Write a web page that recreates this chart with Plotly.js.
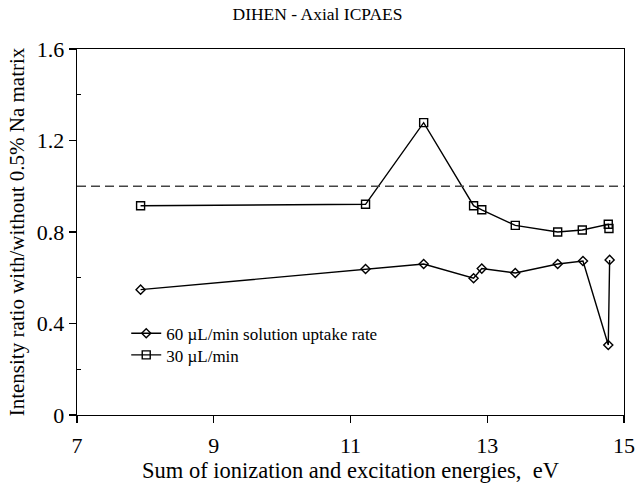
<!DOCTYPE html>
<html>
<head>
<meta charset="utf-8">
<script src="https://cdn.plot.ly/plotly-3.0.1.min.js"></script>
<style>html,body{margin:0;padding:0;background:#fff;}#chart{width:635px;height:486px;}</style>
</head>
<body>
<div id="chart"></div>
<script>
// Sum of ionization and excitation energies (eV)
const energy60 = [7.93, 11.22, 12.07, 12.80, 12.92, 13.41, 14.03, 14.40, 14.77, 14.79];
const ratio60  = [0.548, 0.638, 0.660, 0.598, 0.640, 0.621, 0.660, 0.673, 0.306, 0.678];
const energy30 = [7.93, 11.22, 12.07, 12.80, 12.92, 13.41, 14.03, 14.39, 14.77, 14.78];
const ratio30  = [0.915, 0.921, 1.278, 0.915, 0.897, 0.829, 0.800, 0.809, 0.834, 0.815];
const refLevel = 1.0;
const seriesNames = ["60 \u00b5L/min solution uptake rate", "30 \u00b5L/min"];
const xTicks = [7, 9, 11, 13, 15];
const yTicks = [0, 0.4, 0.8, 1.2, 1.6];

const serif = "Liberation Serif, Times New Roman, serif";

const traces = [
  {
    x: energy60, y: ratio60, name: seriesNames[0], mode: "lines+markers", legend: "legend",
    line: {color: "#000", width: 1.4},
    marker: {symbol: "diamond-open", size: 7, color: "#000", line: {width: 1.4, color: "#000"}}
  },
  {
    x: energy30, y: ratio30, name: seriesNames[1], mode: "lines+markers", legend: "legend2",
    line: {color: "#000", width: 1.4},
    marker: {symbol: "square-open", size: 8, color: "#000", line: {width: 1.4, color: "#000"}}
  }
];

const legendStyle = (yPos) => ({
  x: 0.09, y: yPos, xanchor: "left", yanchor: "middle",
  bgcolor: "rgba(0,0,0,0)", borderwidth: 0,
  font: {family: serif, size: 17, color: "#000"},
  itemwidth: 30
});

const layout = {
  width: 635, height: 486,
  margin: {l: 77, r: 11, t: 49, b: 71},
  paper_bgcolor: "#fff", plot_bgcolor: "#fff",
  font: {family: serif, color: "#000", size: 17},
  showlegend: true,
  title: {text: "DIHEN - Axial ICPAES", font: {family: serif, size: 17.5, color: "#000"}, x: 0.5, xanchor: "center", y: 0.972, yanchor: "middle"},
  xaxis: {
    range: [7, 15], tickvals: xTicks, ticktext: xTicks.map(String),
    showgrid: false, zeroline: false, showline: true, linecolor: "#000", linewidth: 1.3, mirror: true,
    ticks: "outside", ticklen: 7, tickwidth: 1.3, tickcolor: "#000",
    tickfont: {family: serif, size: 22}, ticklabelstandoff: 3,
    title: {text: "Sum of ionization and excitation energies,  eV", font: {family: serif, size: 22.5}, standoff: 4}
  },
  yaxis: {
    range: [0, 1.6], tickvals: yTicks, ticktext: ["0", "0.4", "0.8", "1.2", "1.6"],
    showgrid: false, zeroline: false, showline: true, linecolor: "#000", linewidth: 1.3, mirror: true,
    ticks: "outside", ticklen: 7, tickwidth: 1.3, tickcolor: "#000",
    minor: {tickvals: [0.2, 0.6, 1.0, 1.4], ticks: "inside", ticklen: 4, tickwidth: 1.3, tickcolor: "#000", showgrid: false},
    tickfont: {family: serif, size: 22},
    title: {text: "Intensity ratio with/without 0.5% Na matrix", font: {family: serif, size: 21}, standoff: 6}
  },
  legend: legendStyle(0.222),
  legend2: legendStyle(0.163),
  shapes: [
    {type: "line", xref: "paper", x0: 0, x1: 1, yref: "y", y0: refLevel, y1: refLevel,
     line: {color: "#444", width: 1.3, dash: "9px,5px"}}
  ]
};

Plotly.newPlot("chart", traces, layout, {displayModeBar: false, staticPlot: true});
</script>
</body>
</html>
